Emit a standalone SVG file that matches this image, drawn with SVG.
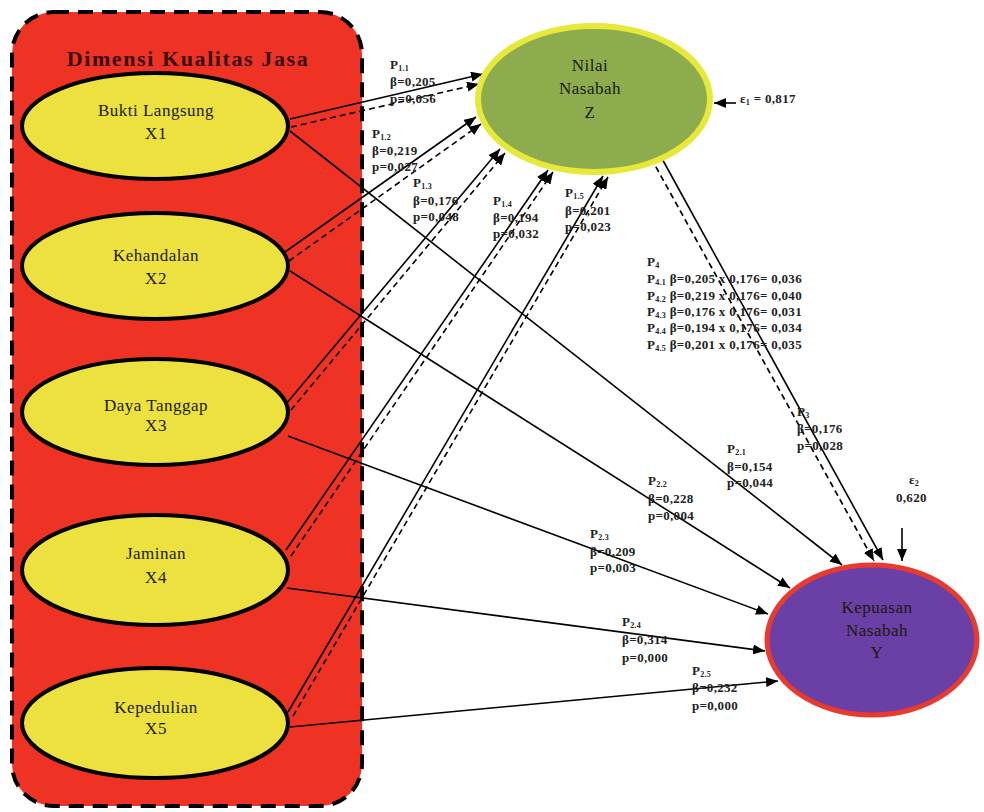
<svg xmlns="http://www.w3.org/2000/svg" width="984" height="812" viewBox="0 0 984 812">
<defs>
<marker id="ah" viewBox="0 0 12 10" refX="12" refY="5" markerWidth="12" markerHeight="10" markerUnits="userSpaceOnUse" orient="auto">
<path d="M0,0 L12,5 L0,10 z" fill="#000"/>
</marker>
<style>
.xe{fill:#ece13e;stroke:#000;stroke-width:4}
.nt{font-family:"Liberation Serif","DejaVu Serif",serif;font-size:17px;letter-spacing:0.5px;text-anchor:middle;fill:#1a1a0a}
.lb{font-family:"Liberation Serif","DejaVu Serif",serif;font-size:13px;font-weight:bold;letter-spacing:0.3px;fill:#222}
.sb{font-size:8px}
.sol{stroke:#000;stroke-width:1.6;fill:none;marker-end:url(#ah)}
.das{stroke:#000;stroke-width:1.6;fill:none;stroke-dasharray:6 4;marker-end:url(#ah)}
</style>
</defs>
<rect width="984" height="812" fill="#fff"/>
<g id="group-dimensi">
<rect x="12" y="12" width="350" height="794" rx="42" fill="#ee3224" stroke="#000" stroke-width="4" stroke-dasharray="15 9"/>
<text x="188" y="66" font-family="Liberation Serif,serif" font-size="22" font-weight="bold" letter-spacing="1.6" text-anchor="middle" fill="#3a0c0c">Dimensi Kualitas Jasa</text>
</g>
<g id="connectors">
<line class="sol" x1="290" y1="119" x2="483" y2="74"/>
<line class="das" x1="291" y1="127" x2="479" y2="84"/>
<line class="sol" x1="285" y1="252" x2="476" y2="117"/>
<line class="das" x1="289" y1="261" x2="481" y2="124"/>
<line class="sol" x1="286" y1="404" x2="500" y2="149"/>
<line class="das" x1="291" y1="410" x2="505" y2="153"/>
<line class="sol" x1="286" y1="550" x2="548" y2="170"/>
<line class="das" x1="291" y1="556" x2="553" y2="172"/>
<line class="sol" x1="288" y1="712" x2="603" y2="176"/>
<line class="das" x1="293" y1="716" x2="608" y2="177"/>
<line class="sol" x1="660" y1="155" x2="883" y2="560"/>
<line class="das" x1="651" y1="158" x2="874" y2="561"/>
<line class="sol" x1="290" y1="131" x2="842" y2="565"/>
<line class="sol" x1="290" y1="271" x2="790" y2="588"/>
<line class="sol" x1="288" y1="436" x2="768" y2="614"/>
<line class="sol" x1="287" y1="588" x2="765" y2="651"/>
<line class="sol" x1="290" y1="727" x2="778" y2="681"/>
<line class="sol" x1="736" y1="103" x2="714" y2="103"/>
<line class="sol" x1="902" y1="528" x2="902" y2="561"/>
</g>
<g id="X1"><ellipse class="xe" cx="155" cy="126" rx="133" ry="53"/><text class="nt" x="156" y="116">Bukti Langsung</text><text class="nt" x="156" y="139">X1</text></g>
<g id="X2"><ellipse class="xe" cx="155" cy="266" rx="133" ry="53"/><text class="nt" x="156" y="261">Kehandalan</text><text class="nt" x="156" y="284">X2</text></g>
<g id="X3"><ellipse class="xe" cx="155" cy="412" rx="133" ry="53"/><text class="nt" x="156" y="411">Daya Tanggap</text><text class="nt" x="156" y="431">X3</text></g>
<g id="X4"><ellipse class="xe" cx="155" cy="570" rx="133" ry="55"/><text class="nt" x="156" y="559">Jaminan</text><text class="nt" x="156" y="583">X4</text></g>
<g id="X5"><ellipse class="xe" cx="155" cy="723" rx="133" ry="55"/><text class="nt" x="156" y="713">Kepedulian</text><text class="nt" x="156" y="734">X5</text></g>
<g id="Z"><ellipse cx="594" cy="99" rx="116" ry="73" fill="#8cac4e" stroke="#e6e83a" stroke-width="6"/><text class="nt" x="590" y="71" fill="#2a4a1a">Nilai</text><text class="nt" x="590" y="94" fill="#2a4a1a">Nasabah</text><text class="nt" x="590" y="118" fill="#2a4a1a">Z</text></g>
<g id="Y"><ellipse cx="872" cy="640" rx="105" ry="75" fill="#6a3fa6" stroke="#e83a2e" stroke-width="5"/><text class="nt" x="877" y="613" fill="#e8dca8">Kepuasan</text><text class="nt" x="877" y="636" fill="#e8dca8">Nasabah</text><text class="nt" x="877" y="658" fill="#e8dca8">Y</text></g>
<g id="labels">
<text class="lb" x="390" y="69">P<tspan class="sb" dy="2">1.1</tspan></text><text class="lb" x="390" y="86">β=0,205</text><text class="lb" x="390" y="103">p=0,056</text>
<text class="lb" x="372" y="138">P<tspan class="sb" dy="2">1.2</tspan></text><text class="lb" x="372" y="155">β=0,219</text><text class="lb" x="372" y="171">p=0,027</text>
<text class="lb" x="413" y="187">P<tspan class="sb" dy="2">1.3</tspan></text><text class="lb" x="413" y="205">β=0,176</text><text class="lb" x="413" y="221">p=0,048</text>
<text class="lb" x="493" y="205">P<tspan class="sb" dy="2">1.4</tspan></text><text class="lb" x="493" y="222">β=0,194</text><text class="lb" x="493" y="238">p=0,032</text>
<text class="lb" x="565" y="197">P<tspan class="sb" dy="2">1.5</tspan></text><text class="lb" x="565" y="215">β=0,201</text><text class="lb" x="565" y="231">p=0,023</text>
<text class="lb" x="647" y="266">P<tspan class="sb" dy="2">4</tspan></text>
<text class="lb" x="647" y="283">P<tspan class="sb" dy="2">4.1</tspan><tspan dy="-2"> β=0,205 x 0,176= 0,036</tspan></text>
<text class="lb" x="647" y="300">P<tspan class="sb" dy="2">4.2</tspan><tspan dy="-2"> β=0,219 x 0,176= 0,040</tspan></text>
<text class="lb" x="647" y="316">P<tspan class="sb" dy="2">4.3</tspan><tspan dy="-2"> β=0,176 x 0,176= 0,031</tspan></text>
<text class="lb" x="647" y="332">P<tspan class="sb" dy="2">4.4</tspan><tspan dy="-2"> β=0,194 x 0,176= 0,034</tspan></text>
<text class="lb" x="647" y="349">P<tspan class="sb" dy="2">4.5</tspan><tspan dy="-2"> β=0,201 x 0,176= 0,035</tspan></text>
<text class="lb" x="797" y="416">P<tspan class="sb" dy="2">3</tspan></text><text class="lb" x="797" y="433">β=0,176</text><text class="lb" x="797" y="450">p=0,028</text>
<text class="lb" x="727" y="453">P<tspan class="sb" dy="2">2.1</tspan></text><text class="lb" x="727" y="471">β=0,154</text><text class="lb" x="727" y="487">p=0,044</text>
<text class="lb" x="648" y="485">P<tspan class="sb" dy="2">2.2</tspan></text><text class="lb" x="648" y="503">β=0,228</text><text class="lb" x="648" y="520">p=0,004</text>
<text class="lb" x="590" y="538">P<tspan class="sb" dy="2">2.3</tspan></text><text class="lb" x="590" y="556">β=0,209</text><text class="lb" x="590" y="572">p=0,003</text>
<text class="lb" x="622" y="626">P<tspan class="sb" dy="2">2.4</tspan></text><text class="lb" x="622" y="644">β=0,314</text><text class="lb" x="622" y="662">p=0,000</text>
<text class="lb" x="692" y="675">P<tspan class="sb" dy="2">2.5</tspan></text><text class="lb" x="692" y="692">β=0,232</text><text class="lb" x="692" y="710">p=0,000</text>
<text class="lb" x="740" y="103">ε<tspan class="sb" dy="2">1</tspan><tspan dy="-2"> = 0,817</tspan></text>
<text class="lb" x="909" y="484">ε<tspan class="sb" dy="2">2</tspan></text>
<text class="lb" x="896" y="502">0,620</text>
</g>
</svg>
